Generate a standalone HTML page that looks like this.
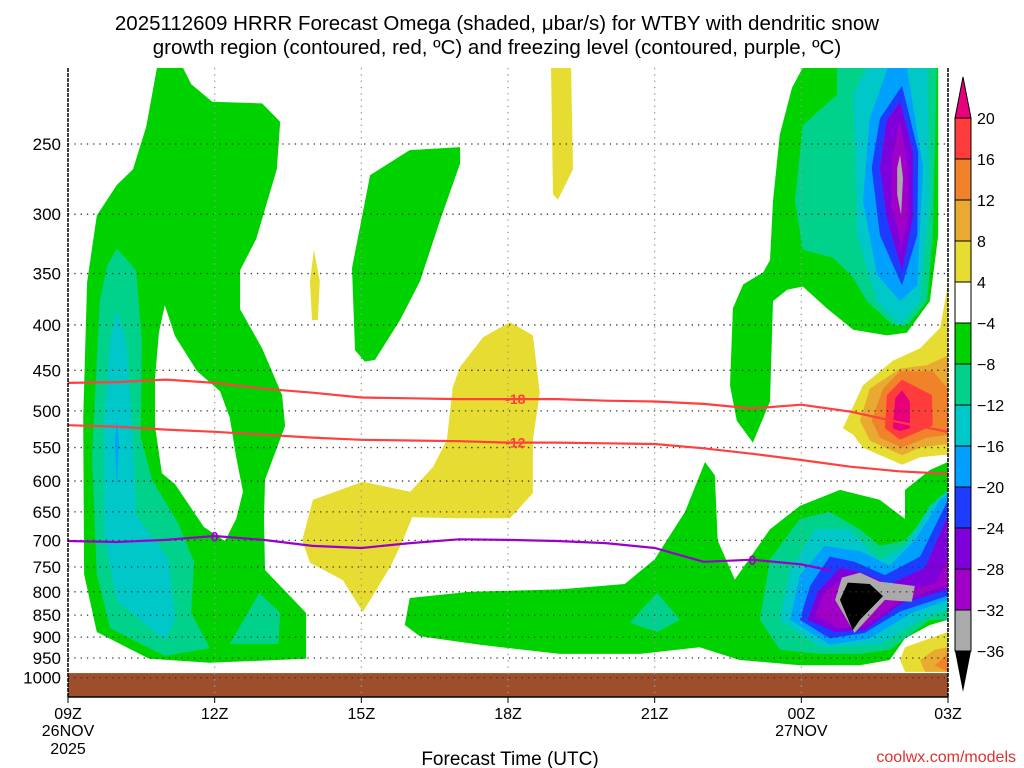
<!DOCTYPE html>
<html><head><meta charset="utf-8"><style>
body{margin:0;background:#fff;width:1024px;height:768px;overflow:hidden;font-family:"Liberation Sans",sans-serif}
svg{display:block}
</style></head><body>
<svg id="c" width="1024" height="768" font-family="Liberation Sans, DejaVu Sans, sans-serif">
<text x="497" y="30" font-size="20.5" text-anchor="middle">2025112609 HRRR Forecast Omega (shaded, μbar/s) for WTBY with dendritic snow</text>
<text x="497" y="54" font-size="20.5" text-anchor="middle">growth region (contoured, red, ºC) and freezing level (contoured, purple, ºC)</text>
<g id="shp"></g>
<g id="grd"></g>
<g id="lns"></g>
<g id="axs"></g>
<g id="cb"></g>
<text x="510" y="765" font-size="19" text-anchor="middle">Forecast Time (UTC)</text>
<text x="1016" y="762" font-size="16" fill="#e03030" text-anchor="end">coolwx.com/models</text>
</svg>
<script>
const pressureTicks=[250,300,350,400,450,500,550,600,650,700,750,800,850,900,950,1000];
const hourTicks=[0,3,6,9,12,15,18];
const hourLabels=["09Z","12Z","15Z","18Z","21Z","00Z","03Z"];
const cbLevels=["20","16","12","8","4","-4","-8","-12","-16","-20","-24","-28","-32","-36"];
const cbColors=["#ff3c3c","#f0822a","#e8aa30","#e6dc32","#ffffff","#00d200","#00d28c","#00c8c8","#00a0ff","#1e3cff","#8000dc","#a000c8","#aaaaaa"];
const hoursLine=[0,1,2,3,4,5,6,7,8,9,10,11,12,13,14,15,16,17,18];
const minus18P=[465,464,461,465,472,477,483,484,485,485,485,487,488,491,497,492,501,515,528];
const minus12P=[519,521,525,528,532,536,539,540,541,543,543,544,545,551,559,568,578,585,589];
const zeroHours=[0,1,2,3,4,5,6,7,8,9,10,11,12,13,14,15,15.6];
const zeroP=[701,703,699,692,699,710,714,705,698,699,701,705,714,740,736,745,757];
const C={G:"#00d200",T:"#00d28c",C:"#00c8c8",L:"#00a0ff",B:"#1e3cff",P:"#8000dc",V:"#a000c8",Y:"#aaaaaa",K:"#000000",W:"#ffffff",y:"#e6dc32",o:"#e8aa30",O:"#f0822a",R:"#ff3c3c",M:"#e8007a"};
const shapes=[
["G",[[1.82,205],[2.35,205],[2.52,214],[2.95,224],[3.97,225],[4.34,236],[4.27,267],[3.85,320],[3.52,347],[3.52,384],[3.97,425],[4.38,480],[4.44,520],[4.03,598],[4.01,662],[4.03,756],[4.87,845],[4.87,952],[2.9,962],[1.66,952],[0.59,888],[0.33,764],[0.31,509],[0.39,358],[0.59,301],[1.0,278],[1.33,267],[1.6,239]]],
["W",[[1.98,380],[2.19,412],[2.64,451],[3.11,475],[3.31,509],[3.44,564],[3.58,617],[3.44,662],[3.21,701],[2.78,676],[2.19,605],[1.92,588],[1.78,520],[1.78,460],[1.86,408]]],
["T",[[1.0,328],[1.39,347],[1.51,416],[1.49,536],[1.72,598],[2.25,669],[2.58,740],[2.52,845],[2.9,926],[1.98,945],[0.86,879],[0.59,764],[0.49,564],[0.65,376],[0.8,343]]],
["C",[[1.0,384],[1.19,416],[1.33,536],[1.39,655],[2.05,733],[2.19,861],[1.98,907],[1.0,819],[0.74,690],[0.74,509],[0.86,416]]],
["L",[[1.0,509],[1.04,545],[1.0,608],[0.96,545]]],
["T",[[3.31,916],[3.91,802],[4.34,845],[4.30,916]]],
["G",[[5.87,427],[5.81,345],[6.18,271],[6.99,254],[8.02,252],[8.02,263],[7.61,305],[7.2,357],[6.79,395],[6.28,438],[6.07,440]]],
["y",[[4.99,395],[4.95,357],[5.03,329],[5.15,357],[5.11,395]]],
["y",[[9.92,285],[9.88,205],[10.29,205],[10.33,267],[10.02,289]]],
["y",[[9.04,397],[9.51,411],[9.65,477],[9.51,539],[9.51,619],[9.04,661],[7.96,661],[7.04,659],[6.85,700],[6.59,750],[6.03,843],[5.62,776],[4.95,742],[4.79,700],[5.01,630],[6.03,601],[7.0,617],[7.47,578],[7.75,539],[7.87,470],[8.02,446],[8.49,413]]],
["G",[[6.89,872],[6.99,813],[8.22,800],[10.06,795],[11.39,784],[12.0,735],[12.62,650],[13.03,571],[13.23,591],[13.29,700],[13.64,775],[14.36,680],[14.97,640],[15.79,614],[16.6,630],[17.12,662],[17.12,614],[17.63,583],[18,571],[18,860],[17.63,872],[17.12,903],[16.81,955],[16.2,968],[14.97,968],[13.74,955],[12.92,924],[11.7,940],[10.06,940],[8.43,918],[7.2,898]]],
["T",[[11.49,867],[12.05,802],[12.52,860],[12.05,888]]],
["T",[[14.15,860],[14.36,735],[14.97,662],[15.58,650],[16.2,680],[16.6,710],[17.12,700],[17.63,650],[18,630],[18,860],[17.63,860],[16.81,930],[16.2,940],[15.38,940],[14.56,930]]],
["C",[[14.56,860],[14.77,757],[15.28,680],[15.99,680],[16.6,736],[17.12,710],[17.63,640],[18,614],[18,836],[17.43,860],[16.6,918],[15.38,924]]],
["L",[[14.77,860],[14.97,766],[15.48,710],[16.2,720],[16.81,747],[17.32,700],[17.84,630],[18,622],[18,817],[17.22,847],[16.4,903],[15.58,918]]],
["B",[[14.97,860],[15.18,788],[15.58,730],[16.09,740],[16.71,766],[17.43,730],[17.94,640],[18,630],[18,808],[17.02,842],[16.3,890],[15.58,903]]],
["P",[[15.13,860],[15.34,800],[15.79,752],[16.2,760],[16.81,784],[17.53,752],[18,656],[18,795],[17.02,826],[16.3,884],[15.69,888]]],
["V",[[15.28,850],[15.48,800],[15.89,771],[16.3,781],[17.02,800],[17.73,784],[18,736],[18,784],[17.02,822],[16.3,874],[15.75,879]]],
["Y",[[15.69,817],[15.83,771],[16.2,761],[16.6,779],[17.32,788],[17.26,821],[16.71,817],[16.09,890]]],
["K",[[15.79,817],[15.95,781],[16.4,784],[16.67,809],[16.2,860],[16.05,884]]],
["G",[[15.03,205],[14.81,216],[14.56,244],[14.42,290],[14.36,338],[14.22,349],[13.81,360],[13.6,383],[13.54,468],[13.68,513],[14.01,543],[14.36,488],[14.42,376],[14.71,365],[15.03,362],[15.52,383],[16.06,405],[16.75,411],[17.16,408],[17.63,376],[17.8,317],[17.8,205]]],
["T",[[15.73,205],[15.73,220],[15.03,238],[14.87,290],[15.03,329],[15.65,336],[16.06,354],[16.34,376],[16.87,400],[17.16,401],[17.57,376],[17.69,317],[17.77,205]]],
["C",[[16.06,220],[16.34,205],[17.57,205],[17.63,290],[17.43,376],[17.02,400],[16.55,376],[16.14,317],[16.1,255]]],
["L",[[16.77,205],[17.16,205],[17.49,266],[17.37,361],[17.02,376],[16.55,351],[16.26,290],[16.4,234]]],
["B",[[17.06,215],[17.39,255],[17.37,317],[17.06,361],[16.61,317],[16.44,266],[16.61,234]]],
["P",[[17.02,224],[17.28,255],[17.28,303],[17.06,347],[16.75,303],[16.61,266],[16.75,235]]],
["V",[[17.02,235],[17.18,266],[17.18,303],[17.06,325],[16.85,295],[16.85,259]]],
["Y",[[17.02,257],[17.08,273],[17.04,301],[16.96,285],[16.96,266]]],
["y",[[15.85,523],[16.26,468],[16.87,439],[17.43,425],[17.84,403],[18,360],[18,560],[17.43,564],[17.06,575],[16.26,550],[16.06,532]]],
["o",[[16.2,513],[16.4,472],[17.02,448],[17.57,444],[18,433],[18,545],[17.43,550],[17.06,561],[16.4,540]]],
["O",[[16.44,513],[16.67,472],[17.02,451],[17.69,451],[18,472],[18,532],[17.57,536],[17.06,550],[16.61,536]]],
["R",[[16.71,523],[16.75,480],[17.06,461],[17.67,480],[17.69,519],[17.43,527],[17.02,539]]],
["M",[[16.87,523],[16.92,484],[17.06,474],[17.22,488],[17.22,523],[17.02,527]]],
["y",[[17.02,955],[17.12,924],[17.63,903],[18,888],[18,985],[17.12,985]]],
["o",[[17.43,955],[17.73,930],[18,924],[18,985],[17.53,985]]],
["O",[[17.73,968],[18,940],[18,985]]]
];
const X0=68,X1=948,YT=68,YB=697;
function xs(h){return X0+(X1-X0)*h/18;}
function ys(p){return 144+385*Math.log(p/250);}
const NS="http://www.w3.org/2000/svg";
function mk(t,a,par){const e=document.createElementNS(NS,t);for(const k in a)e.setAttribute(k,a[k]);par.appendChild(e);return e;}
const svg=document.getElementById('c');
const defs=mk('defs',{},svg);const cp=mk('clipPath',{id:'pc'},defs);mk('rect',{x:X0,y:YT,width:X1-X0,height:YB-YT},cp);
const shp=document.getElementById('shp');shp.setAttribute('clip-path','url(#pc)');
shapes.forEach((s,i)=>{
  const pl=mk('polygon',{points:s[1].map(q=>xs(q[0]).toFixed(1)+','+ys(q[1]).toFixed(1)).join(' '),fill:C[s[0]]},shp);
  
  
});
const gr=mk('rect',{x:X0,y:ys(988),width:X1-X0,height:YB-ys(988),fill:'#9c4f2a'},shp);


const grd=document.getElementById('grd');
pressureTicks.forEach(p=>{
  const l=mk('line',{x1:X0,x2:X1,y1:ys(p),y2:ys(p),stroke:'#333','stroke-width':1.3,'stroke-dasharray':'1.3 5'},grd);
  
  
});
hourTicks.slice(1,-1).forEach(h=>{
  const l=mk('line',{x1:xs(h),x2:xs(h),y1:YT,y2:YB,stroke:'#999','stroke-width':1.3,'stroke-dasharray':'1.3 5'},grd);
  
  
});
const lns=document.getElementById('lns');
function line(hs,ps,col,name){
  const l=mk('polyline',{points:hs.map((h,i)=>xs(h).toFixed(1)+','+ys(ps[i]).toFixed(1)).join(' '),fill:'none',stroke:col,'stroke-width':2.2},lns);
  
  
}
line(hoursLine,minus18P,'#ff4040','contour-minus18');
line(hoursLine,minus12P,'#ff4040','contour-minus12');
line(zeroHours,zeroP,'#9a00cc','freezing-level-0');
function lab(h,p,t,col){
  const x=xs(h),y=ys(p);
  const e=mk('text',{x:x,y:y+5,'font-size':14,'font-weight':'bold',fill:col,'text-anchor':'middle'},lns);e.textContent=t;
  
  
}
lab(9.15,485,'-18','#ff4040');lab(9.15,543,'-12','#ff4040');lab(3.0,693,'0','#9a00cc');lab(14.0,737,'0','#9a00cc');
const axs=document.getElementById('axs');
mk('line',{x1:X0,x2:X0,y1:YT,y2:YB,stroke:'#000','stroke-width':1.5,'stroke-dasharray':'4 1'},axs);
mk('line',{x1:X1,x2:X1,y1:YT,y2:YB,stroke:'#000','stroke-width':1.5,'stroke-dasharray':'4 1'},axs);
mk('line',{x1:X0,x2:X1,y1:YB,y2:YB,stroke:'#000','stroke-width':1.5},axs);
pressureTicks.forEach(p=>{
  const t=mk('text',{x:61,y:ys(p)+6,'font-size':17,'text-anchor':'end'},axs);t.textContent=p;
  
  
});
hourTicks.forEach((h,i)=>{
  mk('line',{x1:xs(h),x2:xs(h),y1:YB,y2:YB+6,stroke:'#000'},axs);
  const t=mk('text',{x:xs(h),y:719,'font-size':16,'text-anchor':'middle'},axs);t.textContent=hourLabels[i];
  
  
});
[['26NOV',xs(0),736],['2025',xs(0),754],['27NOV',xs(15),736]].forEach(a=>{
  const t=mk('text',{x:a[1],y:a[2],'font-size':16,'text-anchor':'middle'},axs);t.textContent=a[0];
  
  
});
const cb=document.getElementById('cb');
const cx0=955,cx1=971,cy0=118,dy=41;
mk('polygon',{points:`${cx0},${cy0} ${cx1},${cy0} ${(cx0+cx1)/2},${cy0-41}`,fill:'#e8007a',stroke:'#000'},cb);
cbColors.forEach((c,i)=>{
  const r=mk('rect',{x:cx0,y:cy0+i*dy,width:cx1-cx0,height:dy,fill:c,stroke:'#000','stroke-width':1},cb);
  
  
});
const by=cy0+cbColors.length*dy;
mk('polygon',{points:`${cx0},${by} ${cx1},${by} ${(cx0+cx1)/2},${by+41}`,fill:'#000'},cb);
cbLevels.forEach((l,i)=>{
  const t=mk('text',{x:977,y:cy0+i*dy+6,'font-size':16},cb);t.textContent=l.replace('-','−');
  
  
});
</script>
</body></html>
